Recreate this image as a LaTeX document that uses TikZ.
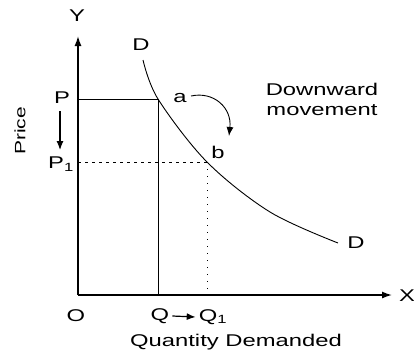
\documentclass[tikz,border=0pt]{standalone}
\usepackage{fontspec}
\setmainfont[FakeStretch=1.4]{Liberation Sans}
\usetikzlibrary{arrows.meta}
\begin{document}
\begin{tikzpicture}[x=1pt, y=-1pt, every node/.style={font=\fontsize{17}{20}\selectfont, inner sep=0pt}]
	\useasboundingbox (0,0) rectangle (414,351);
	\coordinate (O) at (78,295);
	\coordinate (Ytop) at (78,36);
	\coordinate (Xend) at (392,295);
	\coordinate (Pl) at (78,99);
	\coordinate (P1l) at (78,162);
	\coordinate (a) at (158,99);
	\coordinate (b) at (207,162);
	\coordinate (Qb) at (158,295);
	\coordinate (Q1b) at (207,295);
	\draw[line width=1.4pt, -{Latex[length=10pt,width=7pt]}] (O) -- (Ytop);
	\draw[line width=1.4pt, -{Latex[length=10pt,width=7pt]}] (O) -- (Xend);
	\draw[line width=1pt] (Pl) -- (a) -- (Qb);
	\draw[line width=0.8pt, dash pattern=on 3pt off 4pt] (P1l) -- (b);
	\draw[line width=1pt, dash pattern=on 1pt off 6pt] (b) -- (Q1b);
	\draw[line width=0.9pt] plot[smooth, tension=0.55] coordinates {(143,60) (a) (b) (270,212) (338,243)};
	\draw[line width=0.9pt, -{Latex[length=9pt,width=7pt]}] (191,96) .. controls (214,91) and (232,108) .. (229,136);
	\node (lblY) at (77,16) {Y};
	\node (lblX) at (407,296) {X};
	\node (lblO) at (76,316) {O};
	\node (lblP) at (62,98) {P};
	\node (lblP1) at (61,164) {P\textsubscript{1}};
	\draw[line width=1.2pt, -{Latex[length=9pt,width=7pt]}] (60,111) -- (60,150);
	\node (lblD1) at (141,45) {D};
	\node (lblD2) at (356,243) {D};
	\node (lbla) at (180,98) {a};
	\node (lblb) at (218,152) {b};
	\node (lblQ) at (160,316) {Q};
	\node (lblQ1) at (213,317) {Q\textsubscript{1}};
	\draw[line width=1.2pt, -{Latex[length=9pt,width=7pt]}] (lblQ.east) ++(3,0) -- ([xshift=-3pt]lblQ1.west);
	\node[align=center] (move) at (322,99) {Downward\\movement};
	\node[rotate=90, font=\fontsize{15}{18}\selectfont] (price) at (20,131) {Price};
	\node (qd) at (236,342) {Quantity Demanded};
\end{tikzpicture}
\end{document}
